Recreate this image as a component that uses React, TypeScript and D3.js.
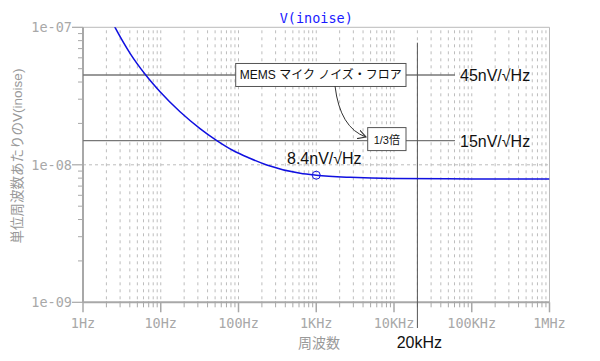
import React from "react";
import * as d3 from "d3";

const freqs = [2.4, 2.58, 4.03, 6.41, 9.8, 17.7, 32, 52.6, 85.2, 140, 231, 621, 1000, 2730, 10000, 100000, 1000000];
const noise = [1.08e-7, 1.0e-7, 6.47e-8, 4.5e-8, 3.4e-8, 2.43e-8, 1.835e-8, 1.5e-8, 1.27e-8, 1.116e-8, 9.97e-9, 8.67e-9, 8.4e-9, 8.11e-9, 7.95e-9, 7.9e-9, 7.9e-9];
const xTickVals = [1, 10, 100, 1000, 10000, 100000, 1000000];
const xTickLabels = ["1Hz", "10Hz", "100Hz", "1KHz", "10KHz", "100KHz", "1MHz"];
const yTickVals = [1e-9, 1e-8, 1e-7];
const yTickLabels = ["1e-09", "1e-08", "1e-07"];
const refLevels = [45e-9, 15e-9];
const refLabels = ["45nV/√Hz", "15nV/√Hz"];
const markerFreq = 1000;
const markerValue = 8.4e-9;
const markerLabel = "8.4nV/√Hz";
const cutoffFreq = 20000;
const cutoffLabel = "20kHz";

const W = 600, H = 361;
const L = 83, R = 549.5, T = 27.3, B = 302.3;
const mono = "'DejaVu Sans Mono', monospace";
const sans = "'Liberation Sans', Arial, 'Noto Sans CJK JP', sans-serif";
const grey = "#a8a8a8";

export default function App() {
  const x = d3.scaleLog().domain([1, 1e6]).range([L, R]);
  const y = d3.scaleLog().domain([1e-9, 1e-7]).range([B, T]);

  const xMinor: number[] = [];
  for (let d = 1; d < 1e6; d *= 10) for (let k = 2; k <= 9; k++) xMinor.push(d * k);
  const yMinor: number[] = [];
  for (let d = 1e-9; d < 1e-7 * 0.99; d *= 10) for (let k = 2; k <= 9; k++) yMinor.push(d * k);

  const pts = freqs.map((f, i) => [x(f), y(noise[i])] as [number, number]);
  const line = d3.line().curve(d3.curveMonotoneX)(pts) || "";

  const memsBox = { x0: 235.7, x1: 406, y: y(refLevels[0]) };
  const thirdBox = { x0: 367.7, x1: 406, y: y(refLevels[1]) };

  return (
    <svg width={W} height={H} style={{ position: "absolute", left: 0, top: 0 }}>
      <defs>
        <clipPath id="plot">
          <rect x={L} y={T} width={R - L} height={B - T} />
        </clipPath>
        <marker id="arr" viewBox="0 0 10 10" refX="9" refY="5" markerWidth="9" markerHeight="9" orient="auto" markerUnits="userSpaceOnUse">
          <path d="M0,0 L9,5 L0,10" fill="none" stroke="#333" strokeWidth="1.2" />
        </marker>
      </defs>
      <rect x={0} y={0} width={W} height={H} fill="#fff" />

      {[...xMinor, ...xTickVals.slice(1, -1)].map((f, i) => (
        <line key={"vg" + i} x1={x(f)} x2={x(f)} y1={T + 3} y2={B} stroke="#bdbdbd" strokeWidth={1} strokeDasharray="3,4" />
      ))}
      {yTickVals.slice(1, -1).map((v, i) => (
        <line key={"hg" + i} x1={L} x2={R} y1={y(v)} y2={y(v)} stroke="#bdbdbd" strokeWidth={1} strokeDasharray="3,3" />
      ))}

      <line x1={L} x2={R} y1={T} y2={T} stroke="#bbb" strokeWidth={1} />
      <line x1={R} x2={R} y1={T} y2={B} stroke="#bbb" strokeWidth={1} />
      <line x1={L} x2={L} y1={T} y2={B} stroke={grey} strokeWidth={2} />
      <line x1={L} x2={R} y1={B} y2={B} stroke={grey} strokeWidth={2} />

      {xMinor.map((f, i) => (
        <line key={"xm" + i} x1={x(f)} x2={x(f)} y1={B - 1} y2={B + 5} stroke={grey} strokeWidth={1} />
      ))}
      {xTickVals.map((f, i) => (
        <g key={"xt" + i}>
          <line x1={x(f)} x2={x(f)} y1={B} y2={B + 10} stroke={grey} strokeWidth={1.5} />
          <text x={x(f)} y={B + 26} textAnchor="middle" fontFamily={mono} fontSize={13.5} fill={grey}>{xTickLabels[i]}</text>
        </g>
      ))}
      {yMinor.map((v, i) => (
        <line key={"ym" + i} x1={L - 5} x2={L} y1={y(v)} y2={y(v)} stroke={grey} strokeWidth={1} />
      ))}
      {yTickVals.map((v, i) => (
        <g key={"yt" + i}>
          <line x1={L - 11} x2={L} y1={y(v)} y2={y(v)} stroke={grey} strokeWidth={1.2} />
          <text x={L - 11} y={y(v) + 5} textAnchor="end" fontFamily={mono} fontSize={13.5} fill={grey}>{yTickLabels[i]}</text>
        </g>
      ))}

      <text x={(L + R) / 2} y={23} textAnchor="middle" fontFamily={mono} fontSize={13.5} fill="#1a1aff">V(inoise)</text>
      <text x={319} y={348} textAnchor="middle" fontFamily={sans} fontSize={14} fill="#999">周波数</text>
      <text transform={`translate(22,156) rotate(-90)`} textAnchor="middle" fontFamily={sans} fontSize={13.5} fill="#999">単位周波数あたりのV(inoise)</text>

      {refLevels.map((v, i) => (
        <g key={"ref" + i}>
          <line x1={L} x2={455} y1={y(v)} y2={y(v)} stroke="#777" strokeWidth={1.3} />
          <text x={460} y={y(v) + 6} fontFamily={sans} fontSize={16} fill="#111">{refLabels[i]}</text>
        </g>
      ))}

      <line x1={x(cutoffFreq)} x2={x(cutoffFreq)} y1={42.7} y2={328} stroke="#555" strokeWidth={1} />
      <text x={x(cutoffFreq) + 2} y={348} textAnchor="middle" fontFamily={sans} fontSize={16} fill="#111">{cutoffLabel}</text>

      <path d={line} clipPath="url(#plot)" fill="none" stroke="#1010e0" strokeWidth={1.5} />
      <circle cx={x(markerFreq)} cy={y(markerValue)} r={4} fill="none" stroke="#1010e0" strokeWidth={1} />
      <text x={287} y={163.5} fontFamily={sans} fontSize={16} fill="#111">{markerLabel}</text>

      <rect x={memsBox.x0} y={memsBox.y - 11.5} width={memsBox.x1 - memsBox.x0} height={23} fill="#fff" stroke="#555" strokeWidth={1} />
      <text x={(memsBox.x0 + memsBox.x1) / 2} y={memsBox.y + 4.5} textAnchor="middle" fontFamily={sans} fontSize={12} fill="#111">MEMS マイク ノイズ・フロア</text>
      <rect x={thirdBox.x0} y={thirdBox.y - 13} width={thirdBox.x1 - thirdBox.x0} height={23} fill="#fff" stroke="#555" strokeWidth={1} />
      <text x={(thirdBox.x0 + thirdBox.x1) / 2} y={thirdBox.y + 3} textAnchor="middle" fontFamily={sans} fontSize={11} fill="#111">1/3倍</text>

      <path d="M335,86 Q340,128 366,137" fill="none" stroke="#333" strokeWidth={1} markerEnd="url(#arr)" />
    </svg>
  );
}
